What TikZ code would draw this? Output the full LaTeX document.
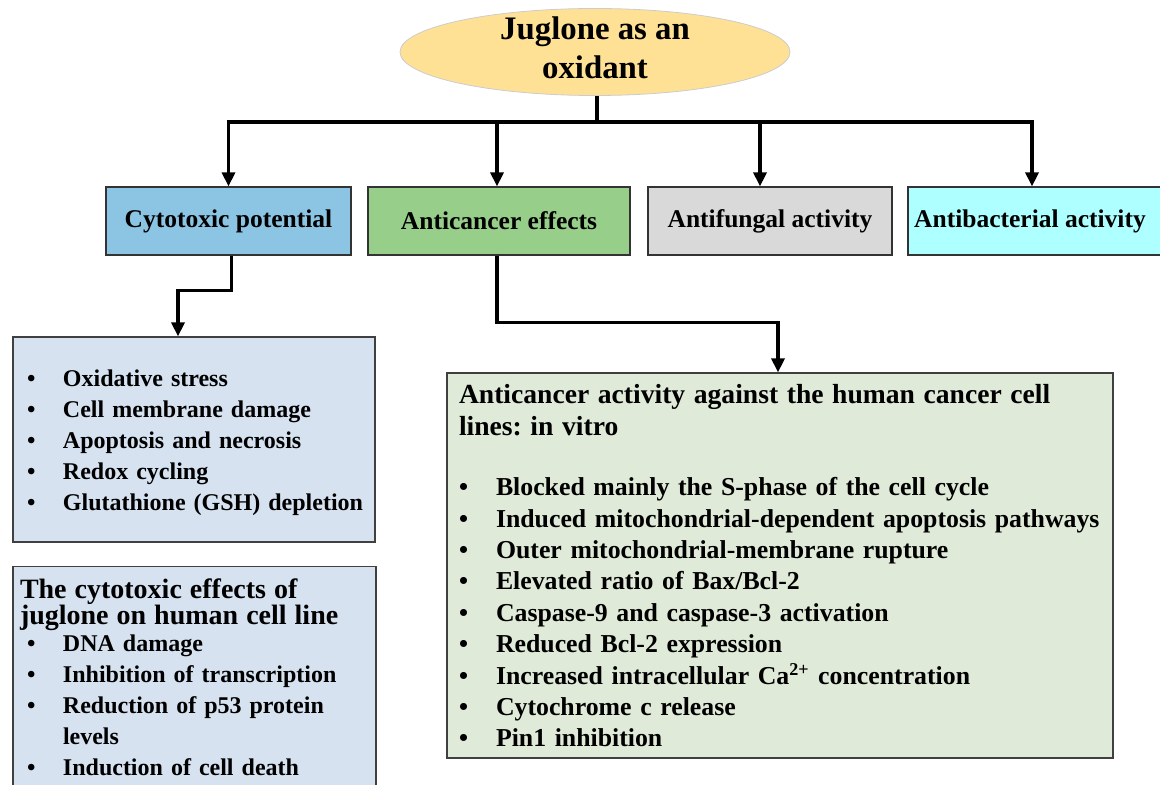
\documentclass[tikz,border=0pt]{standalone}
\usepackage{fontspec}
\setmainfont{Liberation Serif}
\usetikzlibrary{shapes.geometric}
\usetikzlibrary{arrows.meta}
\definecolor{oxidant}{RGB}{255,225,150}
\definecolor{cytoblue}{RGB}{140,196,228}
\definecolor{cancergreen}{RGB}{150,206,138}
\definecolor{fungigray}{RGB}{217,217,217}
\definecolor{bactcyan}{RGB}{174,255,255}
\definecolor{listblue}{RGB}{214,226,240}
\definecolor{listgreen}{RGB}{224,234,216}
\newcommand{\bulitem}[2][18pt]{\par\noindent\makebox[#1][l]{\textbullet}\mbox{#2}}
\newcommand{\padbelow}[1]{\par\vspace*{#1}\hrule height 0pt}
\frenchspacing

\begin{document}
\begin{tikzpicture}[x=0.5pt,y=-0.5pt,
    effect/.style={draw=black!80,line width=0.6pt,minimum width=#1,minimum height=34pt,inner sep=0pt,font=\bfseries\fontsize{12.75}{15}\selectfont},
    listbox/.style={draw=black!75,line width=0.6pt,inner xsep=7pt,font=\bfseries\fontsize{12}{15.5}\selectfont},
    arr/.style={line width=1.6pt,-{Triangle[length=7pt,width=6.5pt]}}]
    \useasboundingbox (0,0) rectangle (1160,785);
    \clip (0,0) rectangle (1160,785);
    \node[ellipse,draw=black!20,fill=oxidant,minimum width=195pt,minimum height=43.5pt] (jug) at (595,52) {};
    \node[align=center,font=\bfseries\fontsize{16.4}{19.5}\selectfont] (jugtext) at (595,48) {Juglone as an\\oxidant};
    \node[effect=122.5pt,fill=cytoblue] (cyto) at (228.5,221) {Cytotoxic potential};
    \node[effect=131pt,fill=cancergreen] (anti) at (499,221) {Anticancer effects};
    \node[effect=122pt,fill=fungigray] (fung) at (770,221) {Antifungal activity};
    \node[effect=130pt,fill=bactcyan] (bact) at (1038,221) {\hspace*{-8pt}Antibacterial activity};
    \coordinate (hub) at (597,122);
    \draw[line width=1.6pt] (jug.south -| hub) -- (hub);
    \draw[arr] (hub) -| (cyto.north);
    \draw[arr] (hub) -| ([xshift=-1pt]anti.north);
    \draw[arr] (hub) -| ([xshift=-5pt]fung.north);
    \draw[arr] (hub) -| ([xshift=-3pt]bact.north);
    \node[listbox,fill=listblue,text width=167pt,minimum height=102.5pt] (mech) at (194,439.5) {%
        \bulitem{Oxidative stress}
        \bulitem{Cell membrane damage}
        \bulitem{Apoptosis and necrosis}
        \bulitem{Redox cycling}
        \bulitem{Glutathione (GSH) depletion}
        \padbelow{4pt}};
    \node[listbox,fill=listblue,text width=167.5pt,inner ysep=6pt,anchor=north] (human) at (194.5,566) {%
        {\fontsize{14}{13}\selectfont\lineskiplimit=-20pt\leftskip=-3.5pt The cytotoxic effects of\newline juglone on human cell line\par}
        \vspace*{-2pt}
        \bulitem{DNA damage}
        \bulitem{Inhibition of transcription}
        \bulitem{Reduction of p53 protein}
        \par\noindent\hspace*{18pt}levels
        \bulitem{Induction of cell death}
        \padbelow{12pt}};
    \node[listbox,fill=listgreen,inner xsep=6pt,text width=321pt,minimum height=192.5pt,font=\bfseries\fontsize{12.9}{15.7}\selectfont] (vitro) at (780,565.5) {%
        {\fontsize{13.8}{16}\selectfont Anticancer activity against the human cancer cell\newline lines: in vitro\par}
        \vspace*{14.6pt}
        \bulitem[18.5pt]{Blocked mainly the S-phase of the cell cycle}
        \bulitem[18.5pt]{Induced mitochondrial-dependent apoptosis pathways}
        \bulitem[18.5pt]{Outer mitochondrial-membrane rupture}
        \bulitem[18.5pt]{Elevated ratio of Bax/Bcl-2}
        \bulitem[18.5pt]{Caspase-9 and caspase-3 activation}
        \bulitem[18.5pt]{Reduced Bcl-2 expression}
        \bulitem[18.5pt]{Increased intracellular Ca\textsuperscript{2+} concentration}
        \bulitem[18.5pt]{Cytochrome c release}
        \bulitem[18.5pt]{Pin1 inhibition}\par};
    \draw[arr] ([xshift=1.5pt]cyto.south) -- ++(0,35) -| ([xshift=-8pt]mech.north);
    \draw[arr] ([xshift=-1pt]anti.south) -- ++(0,67) -| ([xshift=-1pt]vitro.north);
\end{tikzpicture}
\end{document}
